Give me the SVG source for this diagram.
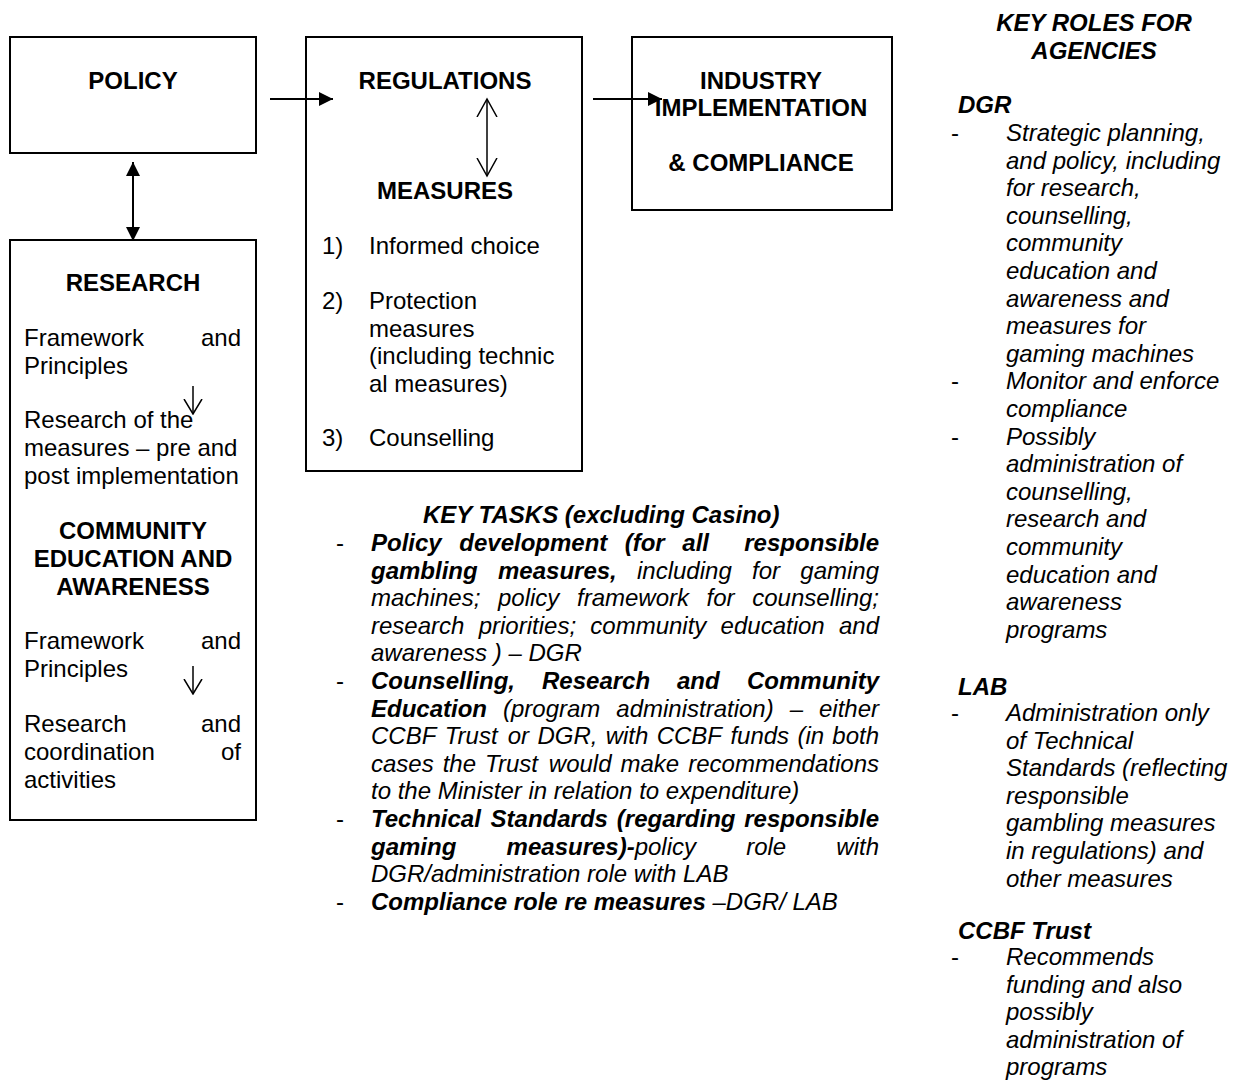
<svg xmlns="http://www.w3.org/2000/svg" width="1234" height="1080" viewBox="0 0 1234 1080">
<style>
text{font-family:"Liberation Sans",Arial,sans-serif;font-size:24px;fill:#000}
.b{font-weight:bold}
.i{font-style:italic}
.bi{font-weight:bold;font-style:italic}
.c{text-anchor:middle}
.e{text-anchor:end}
.box{fill:#fff;stroke:#000;stroke-width:2}
.ln{stroke:#000;stroke-width:2;fill:none}
.thin{stroke:#000;stroke-width:1.5;fill:none}
</style>
<defs>
<marker id="fill" markerUnits="userSpaceOnUse" markerWidth="14" markerHeight="14" refX="14" refY="7" orient="auto-start-reverse"><path d="M0,0 L14,7 L0,14 z" fill="#000"/></marker>
<marker id="open" markerUnits="userSpaceOnUse" markerWidth="20" markerHeight="22" refX="18" refY="11" orient="auto-start-reverse"><path d="M0,1 L18,11 L0,21" fill="none" stroke="#000" stroke-width="1.5"/></marker>
<marker id="openS" markerUnits="userSpaceOnUse" markerWidth="16" markerHeight="20" refX="15" refY="10" orient="auto"><path d="M0,1 L15,10 L0,19" fill="none" stroke="#000" stroke-width="1.5"/></marker>
</defs>
<rect width="1234" height="1080" fill="#fff"/>

<g id="policy">
<rect class="box" x="10" y="37" width="246" height="116"/>
<text class="b c" x="133" y="89">POLICY</text>
</g>

<g id="regulations">
<rect class="box" x="306" y="37" width="276" height="434"/>
<text class="b c" x="445" y="89">REGULATIONS</text>
<text class="b c" x="445" y="199">MEASURES</text>
<text x="322" y="254">1)</text><text x="369" y="254">Informed choice</text>
<text x="322" y="309">2)</text><text x="369" y="309">Protection</text>
<text x="369" y="336.6">measures</text>
<text x="369" y="364">(including technic</text>
<text x="369" y="392">al measures)</text>
<text x="322" y="446">3)</text><text x="369" y="446">Counselling</text>
</g>

<g id="industry">
<rect class="box" x="632" y="37" width="260" height="173"/>
<text class="b c" x="761" y="89">INDUSTRY</text>
<text class="b c" x="761" y="116">IMPLEMENTATION</text>
<text class="b c" x="761" y="171">&amp; COMPLIANCE</text>
</g>

<g id="research">
<rect class="box" x="10" y="240" width="246" height="580"/>
<text class="b c" x="133" y="291">RESEARCH</text>
<text x="24" y="346">Framework</text><text class="e" x="241" y="346">and</text>
<text x="24" y="373.6">Principles</text>
<text x="24" y="428">Research of the</text>
<text x="24" y="456">measures – pre and</text>
<text x="24" y="484">post implementation</text>
<text class="b c" x="133" y="539">COMMUNITY</text>
<text class="b c" x="133" y="567">EDUCATION AND</text>
<text class="b c" x="133" y="595">AWARENESS</text>
<text x="24" y="649">Framework</text><text class="e" x="241" y="649">and</text>
<text x="24" y="677">Principles</text>
<text x="24" y="732">Research</text><text class="e" x="241" y="732">and</text>
<text x="24" y="760">coordination</text><text class="e" x="241" y="760">of</text>
<text x="24" y="788">activities</text>
</g>

<g id="connectors">
<line class="ln" x1="133" y1="162" x2="133" y2="241" marker-start="url(#fill)" marker-end="url(#fill)"/>
<line class="ln" x1="270" y1="99" x2="333" y2="99" marker-end="url(#fill)"/>
<line class="ln" x1="593" y1="99" x2="662" y2="99" marker-end="url(#fill)"/>
<line class="thin" x1="487" y1="99" x2="487" y2="176" marker-start="url(#open)" marker-end="url(#open)"/>
<line class="thin" x1="193" y1="386" x2="193" y2="414" marker-end="url(#openS)"/>
<line class="thin" x1="193" y1="666" x2="193" y2="694" marker-end="url(#openS)"/>
</g>

<g id="key-tasks">
<text class="bi" x="423" y="523">KEY TASKS (excluding Casino)</text>
<text x="336" y="551">-</text>
<text class="bi" y="551"><tspan x="371">Policy</tspan><tspan x="459.3">development</tspan><tspan x="624.7">(for</tspan><tspan x="682.3">all</tspan></text>
<text class="bi e" x="879" y="551">responsible</text>
<text y="578.6"><tspan class="bi" x="371">gambling</tspan><tspan class="bi" x="498">measures,</tspan><tspan class="i" x="637">including</tspan><tspan class="i" x="752">for</tspan></text>
<text class="i e" x="879" y="578.6">gaming</text>
<text class="i" y="606.2"><tspan x="371">machines;</tspan><tspan x="498">policy</tspan><tspan x="577">framework</tspan><tspan x="706.6">for</tspan></text>
<text class="i e" x="879" y="606.2">counselling;</text>
<text class="i" y="633.8"><tspan x="371">research</tspan><tspan x="478.7">priorities;</tspan><tspan x="590.3">community</tspan><tspan x="720.6">education</tspan></text>
<text class="i e" x="879" y="633.8">and</text>
<text class="i" x="371" y="661.4">awareness ) – DGR</text>
<text x="336" y="689">-</text>
<text class="bi" y="689"><tspan x="371">Counselling,</tspan><tspan x="542">Research</tspan><tspan x="677">and</tspan></text>
<text class="bi e" x="879" y="689">Community</text>
<text y="716.6"><tspan class="bi" x="371">Education</tspan><tspan class="i" x="503">(program</tspan><tspan class="i" x="616.3">administration)</tspan><tspan class="i" x="789.7">–</tspan></text>
<text class="i e" x="879" y="716.6">either</text>
<text class="i" y="744.2"><tspan x="371">CCBF</tspan><tspan x="444.7">Trust</tspan><tspan x="507.7">or</tspan><tspan x="537.4">DGR,</tspan><tspan x="605.7">with</tspan><tspan x="656.7">CCBF</tspan><tspan x="730.4">funds</tspan><tspan x="797.4">(in</tspan></text>
<text class="i e" x="879" y="744.2">both</text>
<text class="i" y="771.8"><tspan x="371">cases</tspan><tspan x="442.7">the</tspan><tspan x="485.1">Trust</tspan><tspan x="548.8">would</tspan><tspan x="620.5">make</tspan></text>
<text class="i e" x="879" y="771.8">recommendations</text>
<text class="i" x="371" y="799.4">to the Minister in relation to expenditure)</text>
<text x="336" y="827">-</text>
<text class="bi" y="827"><tspan x="371">Technical</tspan><tspan x="490.6">Standards</tspan><tspan x="616.8">(regarding</tspan></text>
<text class="bi e" x="879" y="827">responsible</text>
<text y="854.6"><tspan class="bi" x="371">gaming</tspan><tspan class="bi" x="506.6">measures)-</tspan><tspan class="i">policy</tspan><tspan class="i" x="746.2">role</tspan></text>
<text class="i e" x="879" y="854.6">with</text>
<text class="i" x="371" y="882.2">DGR/administration role with LAB</text>
<text x="336" y="909.8">-</text>
<text x="371" y="909.8"><tspan class="bi">Compliance role re measures</tspan><tspan class="i"> –DGR/ LAB</tspan></text>
</g>

<g id="key-roles">
<text class="bi c" x="1094" y="31">KEY ROLES FOR</text>
<text class="bi c" x="1094" y="59">AGENCIES</text>
<text class="bi" x="958" y="113">DGR</text>
<text x="951" y="141">-</text>
<text class="i" x="1006" y="141">Strategic planning,</text>
<text class="i" x="1006" y="168.6">and policy, including</text>
<text class="i" x="1006" y="196.2">for research,</text>
<text class="i" x="1006" y="223.8">counselling,</text>
<text class="i" x="1006" y="251.4">community</text>
<text class="i" x="1006" y="279">education and</text>
<text class="i" x="1006" y="306.6">awareness and</text>
<text class="i" x="1006" y="334.2">measures for</text>
<text class="i" x="1006" y="361.8">gaming machines</text>
<text x="951" y="389.4">-</text>
<text class="i" x="1006" y="389.4">Monitor and enforce</text>
<text class="i" x="1006" y="417">compliance</text>
<text x="951" y="444.6">-</text>
<text class="i" x="1006" y="444.6">Possibly</text>
<text class="i" x="1006" y="472.2">administration of</text>
<text class="i" x="1006" y="499.8">counselling,</text>
<text class="i" x="1006" y="527.4">research and</text>
<text class="i" x="1006" y="555">community</text>
<text class="i" x="1006" y="582.6">education and</text>
<text class="i" x="1006" y="610.2">awareness</text>
<text class="i" x="1006" y="637.8">programs</text>
<text class="bi" x="958" y="695">LAB</text>
<text x="951" y="721">-</text>
<text class="i" x="1006" y="721">Administration only</text>
<text class="i" x="1006" y="748.6">of Technical</text>
<text class="i" x="1006" y="776.2">Standards (reflecting</text>
<text class="i" x="1006" y="803.8">responsible</text>
<text class="i" x="1006" y="831.4">gambling measures</text>
<text class="i" x="1006" y="859">in regulations) and</text>
<text class="i" x="1006" y="886.6">other measures</text>
<text class="bi" x="958" y="939">CCBF Trust</text>
<text x="951" y="965">-</text>
<text class="i" x="1006" y="965">Recommends</text>
<text class="i" x="1006" y="992.6">funding and also</text>
<text class="i" x="1006" y="1020.2">possibly</text>
<text class="i" x="1006" y="1047.8">administration of</text>
<text class="i" x="1006" y="1075.4">programs</text>
</g>
</svg>
